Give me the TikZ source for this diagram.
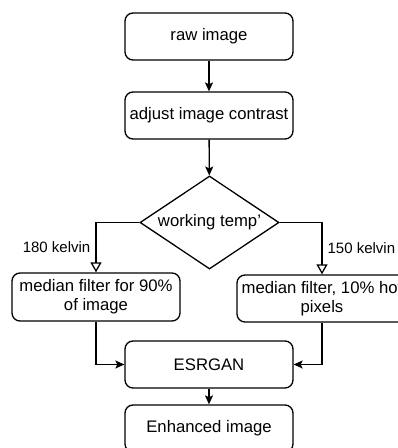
\documentclass[tikz,border=0pt]{standalone}
\usepackage{fontspec}
\setmainfont{Liberation Sans}
\usetikzlibrary{shapes.geometric, arrows.meta}
\tikzset{every picture/.append style={x=1pt, y=-1pt, line width=1.3pt}}
\tikzset{
    stepbox/.style={rectangle, rounded corners=8pt, draw, fill=white,
        minimum width=168pt, minimum height=47pt, inner sep=2pt,
        align=center, font=\fontsize{16.7}{19}\selectfont},
    decision/.style={diamond, draw, fill=white, aspect=1.5, inner sep=0pt,
        minimum width=139pt, minimum height=93pt,
        font=\fontsize{16.7}{19}\selectfont},
    flow/.style={-{Stealth[length=9pt, width=8pt, inset=2pt]}},
    branch/.style={-{Triangle[open, length=10pt, width=11pt, fill=white]}},
    kelvin/.style={font=\fontsize{15}{17}\selectfont, inner sep=5pt}
}

\begin{document}
\begin{tikzpicture}
  \clip (0,0) rectangle (398,448);
  \fill[white] (0,0) rectangle (398,448);

  \node (raw) [stepbox] at (209, 36.5) {raw image};
  \node (contrast) [stepbox] at (209, 115.5) {adjust image contrast};
  \node (temp) [decision] at (209.5, 222.5) {working temp'};
  \node (median90) [stepbox, minimum height=48pt] at (96, 297) {median filter for 90\%\\of image};
  \node (hotpix) [stepbox, minimum width=170pt] at (322, 298.5) {median filter, 10\% hot\\pixels};
  \node (esrgan) [stepbox] at (209, 364.5) {ESRGAN};
  \node (enhanced) [stepbox] at (209, 428.5) {Enhanced image};

  \draw[flow] (raw) -- (contrast);
  \draw[flow] (contrast) -- (temp);
  \draw[branch] (temp.west) -| node[kelvin, left, pos=0.75] {180 kelvin} (median90.north);
  \draw[branch] (temp.east) -| node[kelvin, right, pos=0.75] {150 kelvin} (hotpix.north);
  \draw[flow] (median90.south) |- (esrgan.west);
  \draw[flow] (hotpix.south) |- (esrgan.east);
  \draw[flow] (esrgan) -- (enhanced);
\end{tikzpicture}
\end{document}
